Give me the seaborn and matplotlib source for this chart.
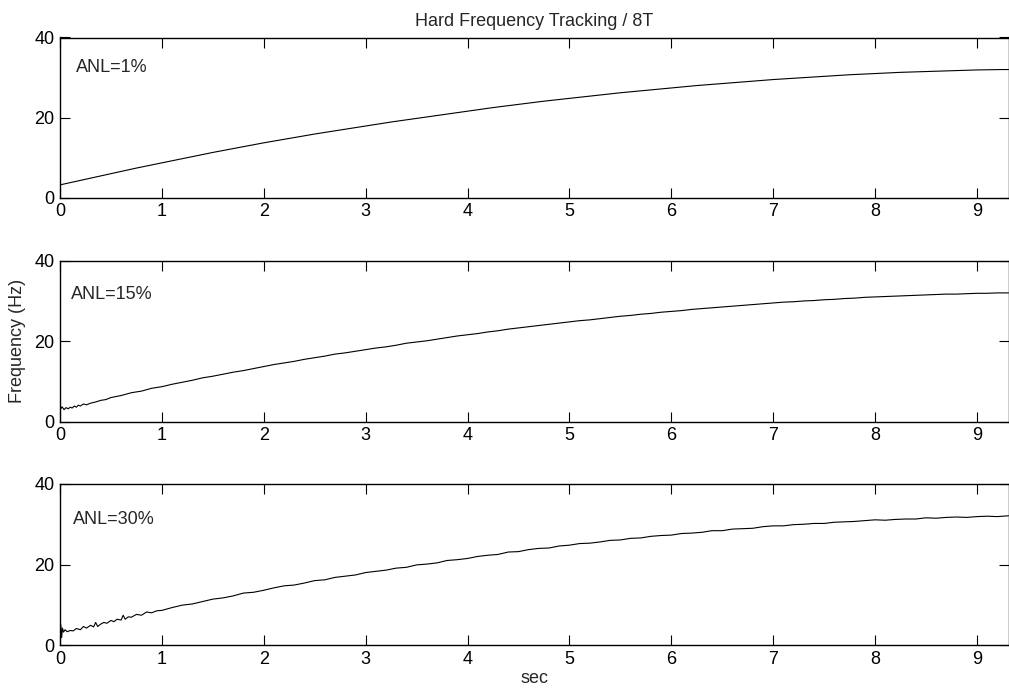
import numpy as np
import pandas as pd
import matplotlib
matplotlib.use("Agg")
import matplotlib.pyplot as plt
import seaborn as sns

# ---------------- data ----------------
title = "Hard Frequency Tracking / 8T"
xlabel = "sec"
ylabel = "Frequency (Hz)"
labels = ["ANL=1%", "ANL=15%", "ANL=30%"]
x_ticks = [0, 1, 2, 3, 4, 5, 6, 7, 8, 9]
y_ticks = [0, 20, 40]

# ANL = 1 %  (smooth)
t1 = [0.0, 0.25, 0.5, 0.75, 1.0, 1.25, 1.5, 1.75, 2.0, 2.25, 2.5, 2.75, 3.0, 3.25,
      3.5, 3.75, 4.0, 4.25, 4.5, 4.75, 5.0, 5.25, 5.5, 5.75, 6.0, 6.25, 6.5, 6.75,
      7.0, 7.25, 7.5, 7.75, 8.0, 8.25, 8.5, 8.75, 9.0, 9.25, 9.31]
f1 = [3.2, 4.6, 6.0, 7.4, 8.7, 10.0, 11.3, 12.5, 13.7, 14.8, 15.9, 16.9, 17.9, 18.9,
      19.8, 20.7, 21.6, 22.5, 23.3, 24.1, 24.8, 25.5, 26.2, 26.8, 27.4, 28.0, 28.5, 29.0,
      29.5, 29.9, 30.3, 30.7, 31.0, 31.3, 31.5, 31.7, 31.9, 32.0, 32.0]

# common time grid for the later part of the noisy traces
t_tail = list(np.round(np.arange(1.1, 9.25, 0.1), 2)) + [9.31]

# ANL = 15 %  (slightly noisy)
t2_head = [0.0, 0.02, 0.04, 0.06, 0.08, 0.1, 0.12, 0.14, 0.16, 0.18, 0.2, 0.23, 0.26,
           0.3, 0.35, 0.4, 0.45, 0.5, 0.6, 0.7, 0.8, 0.9, 1.0]
f2_head = [2.9, 3.7, 3.0, 3.5, 3.2, 3.6, 3.4, 3.9, 3.6, 4.1, 3.9, 4.4, 4.2,
           4.6, 4.9, 5.3, 5.5, 6.0, 6.5, 7.2, 7.6, 8.3, 8.7]
f2_tail = [9.3, 9.8, 10.3, 10.9, 11.3, 11.8, 12.3, 12.7, 13.2, 13.7,
           14.2, 14.6, 15.0, 15.5, 15.9, 16.3, 16.8, 17.1, 17.5, 17.9,
           18.3, 18.6, 19.0, 19.5, 19.8, 20.1, 20.5, 20.9, 21.3, 21.6,
           21.9, 22.3, 22.6, 23.0, 23.3, 23.6, 23.9, 24.2, 24.5, 24.8,
           25.1, 25.3, 25.6, 25.9, 26.2, 26.4, 26.7, 26.9, 27.2, 27.4,
           27.6, 27.9, 28.1, 28.3, 28.5, 28.7, 28.9, 29.1, 29.3, 29.5,
           29.7, 29.8, 30.0, 30.1, 30.3, 30.4, 30.6, 30.7, 30.9, 31.0,
           31.1, 31.2, 31.3, 31.4, 31.5, 31.6, 31.7, 31.7, 31.8, 31.9,
           31.9, 32.0, 32.0]

# ANL = 30 %  (noisier, spike at start)
t3_head = [0.0, 0.008, 0.016, 0.024, 0.035, 0.05, 0.07, 0.1, 0.13, 0.16, 0.2, 0.23,
           0.26, 0.3, 0.33, 0.35, 0.37, 0.4, 0.43, 0.46, 0.5, 0.53, 0.56, 0.6, 0.62,
           0.64, 0.67, 0.7, 0.75, 0.8, 0.85, 0.9, 0.95, 1.0]
f3_head = [2.0, 5.0, 1.8, 4.2, 3.2, 3.8, 3.3, 3.6, 3.5, 4.1, 3.8, 4.6, 4.2, 4.9,
           4.5, 5.6, 4.6, 5.2, 5.6, 5.4, 6.1, 5.8, 6.4, 6.2, 7.4, 6.4, 7.0, 6.9,
           7.6, 7.4, 8.2, 8.0, 8.5, 8.6]
f3_tail = [9.3, 9.9, 10.2, 10.8, 11.4, 11.7, 12.2, 12.9, 13.1, 13.6,
           14.2, 14.7, 14.9, 15.4, 16.0, 16.2, 16.8, 17.1, 17.4, 18.0,
           18.3, 18.6, 19.1, 19.3, 19.9, 20.1, 20.4, 21.0, 21.2, 21.5,
           22.0, 22.3, 22.5, 23.1, 23.2, 23.7, 24.0, 24.1, 24.6, 24.8,
           25.2, 25.3, 25.6, 26.0, 26.1, 26.5, 26.6, 27.0, 27.2, 27.3,
           27.7, 27.8, 28.0, 28.4, 28.4, 28.8, 28.9, 29.0, 29.4, 29.6,
           29.6, 29.9, 30.0, 30.2, 30.2, 30.5, 30.6, 30.7, 30.9, 31.1,
           31.0, 31.2, 31.3, 31.3, 31.6, 31.5, 31.7, 31.8, 31.7, 31.9,
           32.0, 31.9, 32.1]

series = [(t1, f1),
          (t2_head + t_tail, f2_head + f2_tail),
          (t3_head + t_tail, f3_head + f3_tail)]

# ---------------- styling ----------------
sns.set_style("ticks")
plt.rcParams["font.family"] = ["Liberation Sans", "DejaVu Sans"]
FS = 13

fig = plt.figure(figsize=(10.09, 6.97), dpi=100)
left, width = 60 / 1009, 948.5 / 1009
boxes = [(1 - 197.7 / 697, 160.2 / 697),
         (1 - 421.7 / 697, 161.0 / 697),
         (1 - 645.0 / 697, 161.0 / 697)]
label_pos = [(0.155, 32.6), (0.108, 31.7), (0.125, 31.2)]

axes = []
for i, ((b, h), (t, f)) in enumerate(zip(boxes, series)):
    ax = fig.add_axes([left, b, width, h])
    df = pd.DataFrame({"t": t, "f": f})
    sns.lineplot(data=df, x="t", y="f", ax=ax, color="black", linewidth=0.8,
                 estimator=None, sort=False)
    ax.set_xlim(0, 9.31)
    ax.set_ylim(0, 40)
    ax.set_xticks(x_ticks)
    ax.set_yticks(y_ticks)
    ax.tick_params(direction="in", length=7, width=0.8, top=True, right=True,
                   labelsize=FS, pad=4, colors="black")
    for s in ax.spines.values():
        s.set_visible(True)
        s.set_linewidth(1.0)
        s.set_color("black")
    ax.set_xlabel("")
    ax.set_ylabel("")
    ax.text(label_pos[i][0], label_pos[i][1], labels[i], fontsize=FS,
            ha="left", va="center")
    axes.append(ax)

axes[0].set_title(title, fontsize=FS, pad=8)
axes[1].set_ylabel(ylabel, fontsize=FS, labelpad=6)
axes[2].set_xlabel(xlabel, fontsize=FS, labelpad=2)

fig.savefig("out.png", dpi=100, facecolor="white")
